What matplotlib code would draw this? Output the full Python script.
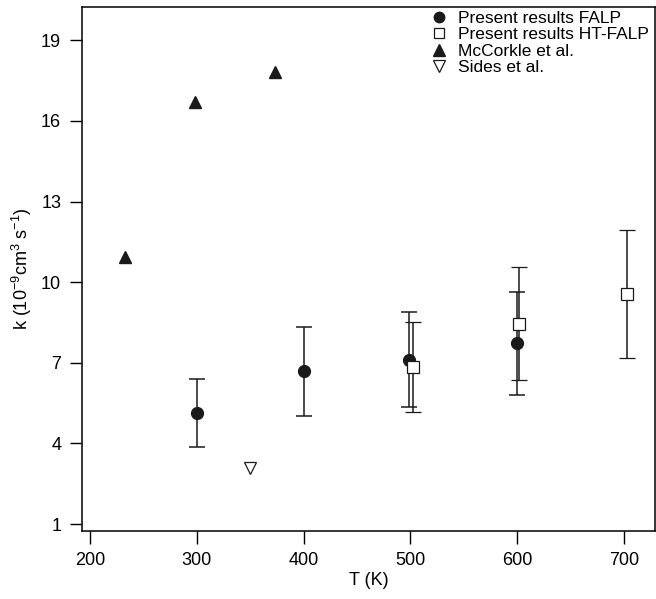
import numpy as np
import matplotlib.pyplot as plt
from matplotlib.lines import Line2D

plt.rcParams['font.family'] = ['Liberation Sans', 'DejaVu Sans']

# Present results FALP
falp_T = [300, 400, 499, 600]
falp_k = [5.13, 6.68, 7.12, 7.72]
falp_err = [1.26, 1.65, 1.76, 1.92]

# Present results HT-FALP
ht_T = [502, 602, 703]
ht_k = [6.83, 8.46, 9.55]
ht_err = [1.68, 2.10, 2.38]

# McCorkle et al.
mc_T = [233, 298, 373]
mc_k = [10.93, 16.69, 17.8]

# Sides et al.
sides_T = [350]
sides_k = [3.1]

labels = ['Present results FALP', 'Present results HT-FALP', 'McCorkle et al.', 'Sides et al.']
ink = '#1a1a1a'

fig = plt.figure(figsize=(6.56, 5.99), dpi=100)
ax = fig.add_axes([0.125, 0.1135, 0.8735, 0.8745])

ax.errorbar(falp_T, falp_k, yerr=falp_err, fmt='o', color=ink, ms=8.5,
            capsize=5.5, elinewidth=1.1, capthick=1.1)
ax.errorbar(ht_T, ht_k, yerr=ht_err, fmt='s', color=ink, mfc='white', mew=0.9,
            ms=8, capsize=5.5, elinewidth=1.1, capthick=1.1)
ax.plot(mc_T, mc_k, '^', color=ink, ms=9, ls='none')
ax.plot(sides_T, sides_k, 'v', color=ink, mfc='white', mew=0.9, ms=9, ls='none')

ax.set_xlim(192.5, 729)
ax.set_ylim(0.74, 20.23)
ax.set_xticks([200, 300, 400, 500, 600, 700])
ax.set_yticks([1, 4, 7, 10, 13, 16, 19])
ax.tick_params(direction='out', length=9, width=1, labelsize=13, pad=6)
for s in ax.spines.values():
    s.set_linewidth(1.1)

ax.set_xlabel('T (K)', fontsize=13, labelpad=2)
ax.set_ylabel(r'k (10$^{\mathregular{-9}}$cm$^{\mathregular{3}}$ s$^{\mathregular{-1}}$)',
              fontsize=13, labelpad=5)

handles = [
    Line2D([], [], marker='o', color=ink, ls='none', ms=7.5),
    Line2D([], [], marker='s', color=ink, mfc='white', mew=0.9, ls='none', ms=7),
    Line2D([], [], marker='^', color=ink, ls='none', ms=8),
    Line2D([], [], marker='v', color=ink, mfc='white', mew=0.9, ls='none', ms=8),
]
ax.legend(handles, labels, loc='upper right', frameon=False, fontsize=12.5,
          handlelength=1.0, handletextpad=0.6, labelspacing=0.08,
          borderaxespad=0.1, bbox_to_anchor=(1.004, 1.010))

fig.savefig('out.png', dpi=100)
